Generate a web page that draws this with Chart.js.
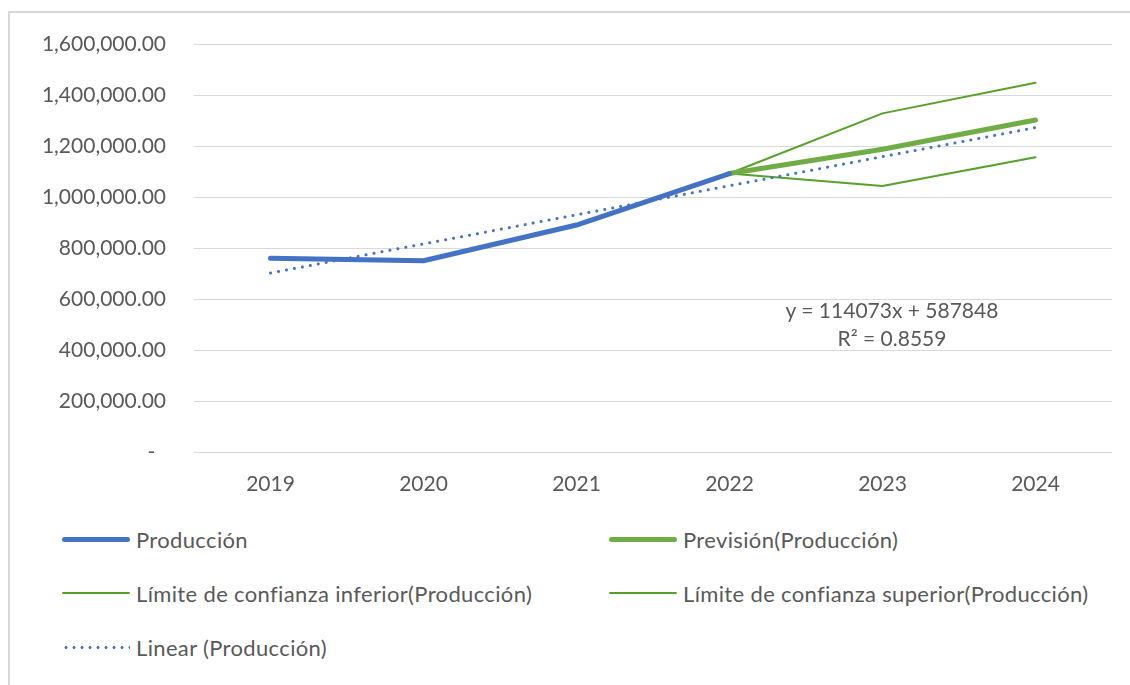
<!DOCTYPE html>
<html>
<head>
<meta charset="utf-8">
<script src="https://cdn.jsdelivr.net/npm/chart.js@4/dist/chart.umd.min.js"></script>
<style>
  html, body { margin: 0; padding: 0; background: #fff; }
  body { width: 1130px; height: 685px; position: relative; overflow: hidden; font-family: Lato, "Open Sans", sans-serif; color: #595959; }
  #frame { position: absolute; left: 8px; top: 11px; width: 1200px; height: 700px; border-left: 2px solid #d9d9d9; border-top: 2px solid #d9d9d9; }
  #wrap { position: absolute; left: 0; top: 0; width: 1130px; height: 510px; }
  #trend { position: absolute; left: 742px; top: 296px; width: 300px; text-align: center; font-size: 21px; line-height: 28px; }
  #legend { position: absolute; left: 0; top: 0; width: 1130px; }
  .item { position: absolute; display: flex; align-items: center; font-size: 22px; letter-spacing: 0.35px; white-space: nowrap; }
  .sample { height: 0; margin-right: 6px; }
</style>
</head>
<body>
<div id="frame"></div>
<div id="wrap"><canvas id="chart" width="1130" height="510"></canvas></div>
<div id="trend">y = 114073x + 587848<br>R² = 0.8559</div>
<div id="legend"></div>
<script>
// data
var years = ["2019", "2020", "2021", "2022", "2023", "2024"];
var produccion = [760000, 750000, 890000, 1092000, null, null];
var prevision = [null, null, null, 1092000, 1187000, 1302000];
var limiteInferior = [null, null, null, 1092000, 1043000, 1156000];
var limiteSuperior = [null, null, null, 1092000, 1328000, 1448000];
var tendencia = [702000, 816000, 930000, 1044000, 1158000, 1272000];
var yTicks = [0, 200000, 400000, 600000, 800000, 1000000, 1200000, 1400000, 1600000];

var blue = "#4472C4";
var green = "#70AD47";
var darkGreen = "#57A02C";

var datasets = [
  { label: "Producción", data: produccion, borderColor: blue, borderWidth: 5, order: 1 },
  { label: "Previsión(Producción)", data: prevision, borderColor: green, borderWidth: 5, order: 2 },
  { label: "Límite de confianza inferior(Producción)", data: limiteInferior, borderColor: darkGreen, borderWidth: 2, order: 3 },
  { label: "Límite de confianza superior(Producción)", data: limiteSuperior, borderColor: darkGreen, borderWidth: 2, order: 3 },
  { label: "Linear (Producción)", data: tendencia, borderColor: blue, borderWidth: 3, borderDash: [0.1, 8], order: 0 }
];
datasets.forEach(function (d) {
  d.pointRadius = 0;
  d.tension = 0;
  d.fill = false;
  d.borderCapStyle = "round";
  d.borderJoinStyle = "round";
});

var ctx = document.getElementById("chart").getContext("2d");
var chart = new Chart(ctx, {
  type: "line",
  data: { labels: years, datasets: datasets },
  options: {
    responsive: false,
    animation: false,
    layout: { padding: { top: 44, right: 18, bottom: 0, left: 0 } },
    plugins: { legend: { display: false }, tooltip: { enabled: false } },
    scales: {
      x: {
        offset: true,
        grid: { display: false },
        border: { display: false },
        ticks: { color: "#595959", font: { family: "Lato", size: 21 }, padding: 12 },
        afterFit: function (s) { s.height = 58; }
      },
      y: {
        min: 0,
        max: 1600000,
        afterBuildTicks: function (s) { s.ticks = yTicks.map(function (v) { return { value: v }; }); },
        grid: { color: "#d9d9d9", lineWidth: 1, drawTicks: false },
        border: { display: false },
        ticks: {
          color: "#595959",
          font: { family: "Lato", size: 21 },
          padding: 28,
          callback: function (v) {
            if (v === 0) return "-  ";
            return v.toLocaleString("en-US", { minimumFractionDigits: 2, maximumFractionDigits: 2 });
          }
        },
        afterFit: function (s) { s.width = 194; }
      }
    }
  }
});

// legend, two columns like the reference
var legendPos = [
  { x: 62, y: 539, w: 68 },
  { x: 609, y: 539, w: 68 },
  { x: 62, y: 593, w: 68 },
  { x: 609, y: 593, w: 68 },
  { x: 62, y: 647, w: 68 }
];
var legend = document.getElementById("legend");
chart.data.datasets.forEach(function (d, i) {
  var item = document.createElement("div");
  item.className = "item";
  item.style.left = legendPos[i].x + "px";
  item.style.top = (legendPos[i].y - 14) + "px";
  item.style.height = "28px";
  var s = document.createElement("span");
  s.className = "sample";
  s.style.width = legendPos[i].w + "px";
  if (d.borderDash) {
    s.style.height = "3px";
    s.style.backgroundImage = "radial-gradient(circle, " + d.borderColor + " 1.4px, transparent 1.6px)";
    s.style.backgroundSize = "8px 3px";
  } else {
    s.style.borderTop = d.borderWidth + "px solid " + d.borderColor;
    s.style.borderRadius = "3px";
  }
  item.appendChild(s);
  var t = document.createElement("span");
  t.textContent = d.label;
  item.appendChild(t);
  legend.appendChild(item);
});
</script>
</body>
</html>
